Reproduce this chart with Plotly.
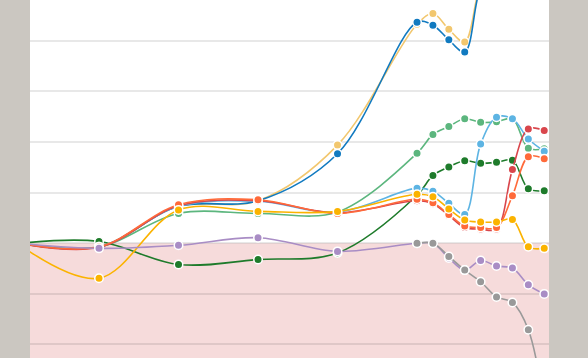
import plotly.graph_objects as go

years = [1985, 1990, 1995, 2000, 2005, 2010, 2011, 2012, 2013, 2014, 2015, 2016, 2017, 2018]

tan_vals = [0, -0.7, 7.3, 8.4, 19.4, 43.3, 45.4, 42.3, 39.8, 51.0, 55.0, 58.0, 60.0, 62.0]
blue_vals = [0, -0.7, 7.3, 8.4, 17.7, 43.7, 43.1, 40.2, 37.8, 50.5, 54.5, 57.5, 59.5, 61.5]
lightgreen_vals = [0, -0.7, 5.9, 5.9, 6.2, 17.8, 21.5, 23.1, 24.6, 23.9, 24.0, 24.6, 18.8, 18.7]
darkgreen_vals = [0, 0.35, -4.2, -3.2, -1.9, 9.5, 13.4, 15.1, 16.3, 15.8, 16.0, 16.4, 10.8, 10.4]
lightblue_vals = [0, -0.7, 7.3, 8.3, 6.2, 10.9, 10.3, 7.9, 5.7, 19.6, 24.9, 24.6, 20.6, 18.2]
red_vals = [0, -0.8, 7.4, 8.4, 6.0, 8.4, 7.8, 5.5, 3.1, 2.8, 2.8, 14.6, 22.6, 22.3]
orange_vals = [0, -0.7, 7.6, 8.6, 5.9, 8.7, 8.0, 5.7, 3.4, 3.1, 3.1, 9.4, 17.1, 16.7]
yellow_vals = [-0.3, -6.9, 6.6, 6.3, 6.3, 9.7, 9.2, 6.8, 4.6, 4.2, 4.2, 4.7, -0.7, -1.0]
purple_vals = [0, -1.0, -0.4, 1.1, -1.6, 0.0, 0.0, -2.9, -5.3, -3.4, -4.5, -4.9, -8.2, -10.0]
gray_years = [2010, 2011, 2012, 2013, 2014, 2015, 2016, 2017, 2018]
gray_vals = [0.0, 0.0, -2.6, -5.3, -7.6, -10.6, -11.7, -17.1, -32.0]

series = [
    ("tan", years, tan_vals, "#f2c76e"),
    ("blue", years, blue_vals, "#117ac0"),
    ("lightgreen", years, lightgreen_vals, "#5cb67e"),
    ("darkgreen", years, darkgreen_vals, "#1e7b2b"),
    ("lightblue", years, lightblue_vals, "#5db4e3"),
    ("red", years, red_vals, "#d9464c"),
    ("orange", years, orange_vals, "#ff6a3a"),
    ("yellow", years, yellow_vals, "#fbb300"),
    ("purple", years, purple_vals, "#a98dc5"),
    ("gray", gray_years, gray_vals, "#999999"),
]

fig = go.Figure()
for name, xs, ys, col in series:
    fig.add_trace(go.Scatter(
        x=xs, y=ys, name=name, mode="lines+markers",
        line=dict(color=col, width=1.6, shape="spline", smoothing=1.0),
        marker=dict(color=col, size=8.5, line=dict(color="white", width=1.5)),
        showlegend=False, hoverinfo="skip",
    ))

fig.add_shape(type="rect", xref="paper", x0=0, x1=1, yref="y", y0=-200, y1=0,
              fillcolor="#f6dbdb", line=dict(width=0), layer="below")

fig.update_layout(
    width=588, height=358,
    margin=dict(l=30, r=39, t=0, b=0, pad=0),
    paper_bgcolor="#cbc7c1",
    plot_bgcolor="white",
    hovermode=False,
    xaxis=dict(range=[1985.66, 2018.3], showgrid=False, zeroline=False,
               showticklabels=False, ticks="", showline=False, fixedrange=True),
    yaxis=dict(range=[-22.67, 48.08], dtick=10, tick0=0, showgrid=True,
               gridcolor="rgba(0,0,0,0.09)", gridwidth=1.5, zeroline=False,
               showticklabels=False, ticks="", showline=False, fixedrange=True),
)

fig.write_html(
    "out.html",
    config={"displayModeBar": False},
    post_script="document.body.style.margin='0px';document.body.style.overflow='hidden';",
)
